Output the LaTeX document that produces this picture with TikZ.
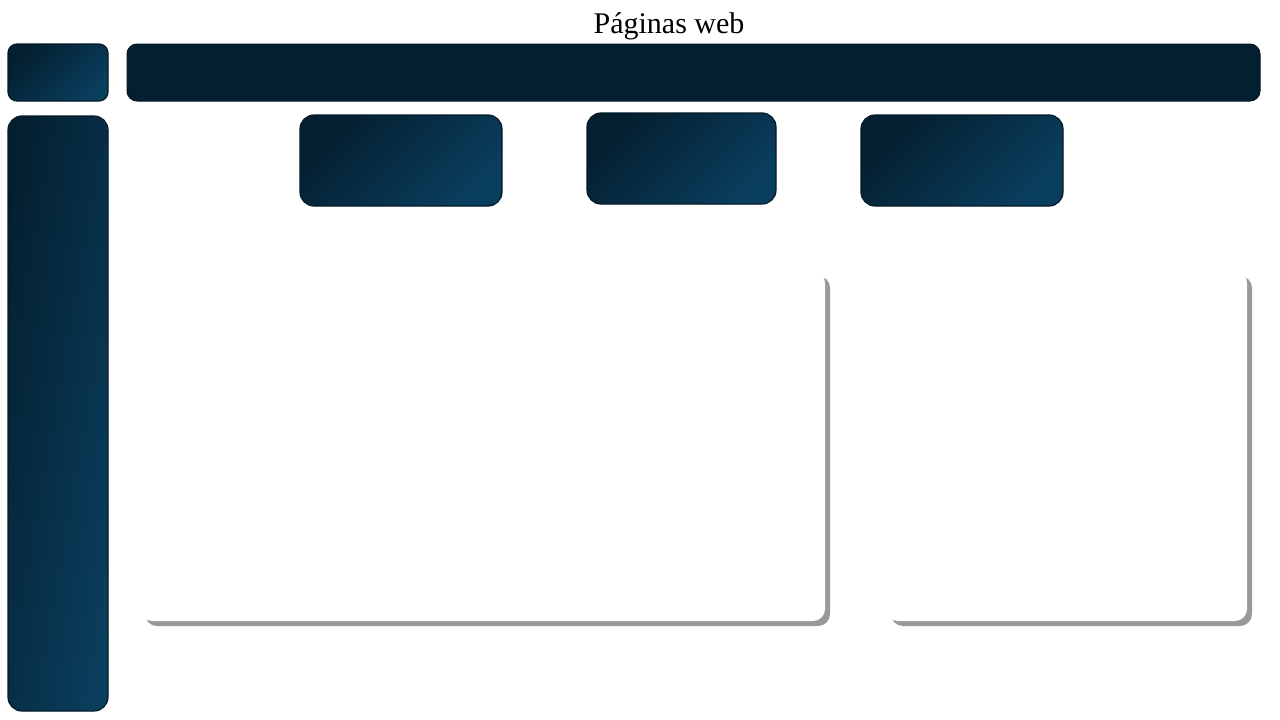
\documentclass[tikz,border=0pt]{standalone}
\usepackage{fontspec}
\setmainfont{Liberation Serif}
\usetikzlibrary{shadows}
\definecolor{navydark}{HTML}{041F2F}
\definecolor{navylight}{HTML}{0A3E5E}
\definecolor{navyedge}{HTML}{021A28}
\tikzset{
  gradbox/.style={draw=navyedge, line width=1.2pt, top color=navydark, bottom color=navylight,
    shading angle=45, anchor=north west, inner sep=0pt, outer sep=0pt, rounded corners=14pt},
  barbox/.style={draw=navyedge, line width=1pt, fill=navydark, anchor=north west,
    inner sep=0pt, outer sep=0pt, rounded corners=10pt},
  panel/.style={fill=white, anchor=north west, inner sep=0pt, outer sep=0pt, rounded corners=12pt,
    drop shadow={shadow xshift=5pt, shadow yshift=-5pt, fill=black!40, opacity=1}},
  titletext/.style={font=\fontsize{30}{36}\selectfont, inner sep=0pt}
}
\begin{document}
\begin{tikzpicture}[x=1pt,y=-1pt]
\useasboundingbox (0,0) rectangle (1280,720);
\node[titletext] (title) at (669,26) {Páginas web};
\node[gradbox, rounded corners=9pt, minimum width=100pt, minimum height=57pt] (corner) at (8,44) {};
\node[barbox, minimum width=1133pt, minimum height=57pt] (topbar) at (127,44) {};
\node[gradbox, top color=navydark, bottom color=navylight, shading angle=80, minimum width=100pt, minimum height=595pt] (sidebar) at (8,116) {};
\node[gradbox, minimum width=202pt, minimum height=91pt] (boxa) at (300,115) {};
\node[gradbox, minimum width=189pt, minimum height=91pt] (boxb) at (587,113) {};
\node[gradbox, minimum width=202pt, minimum height=91pt] (boxc) at (861,115) {};
\node[panel, minimum width=685pt, minimum height=350pt] (panela) at (140,271) {};
\node[panel, minimum width=361pt, minimum height=350pt] (panelb) at (886,271) {};
\end{tikzpicture}
\end{document}
